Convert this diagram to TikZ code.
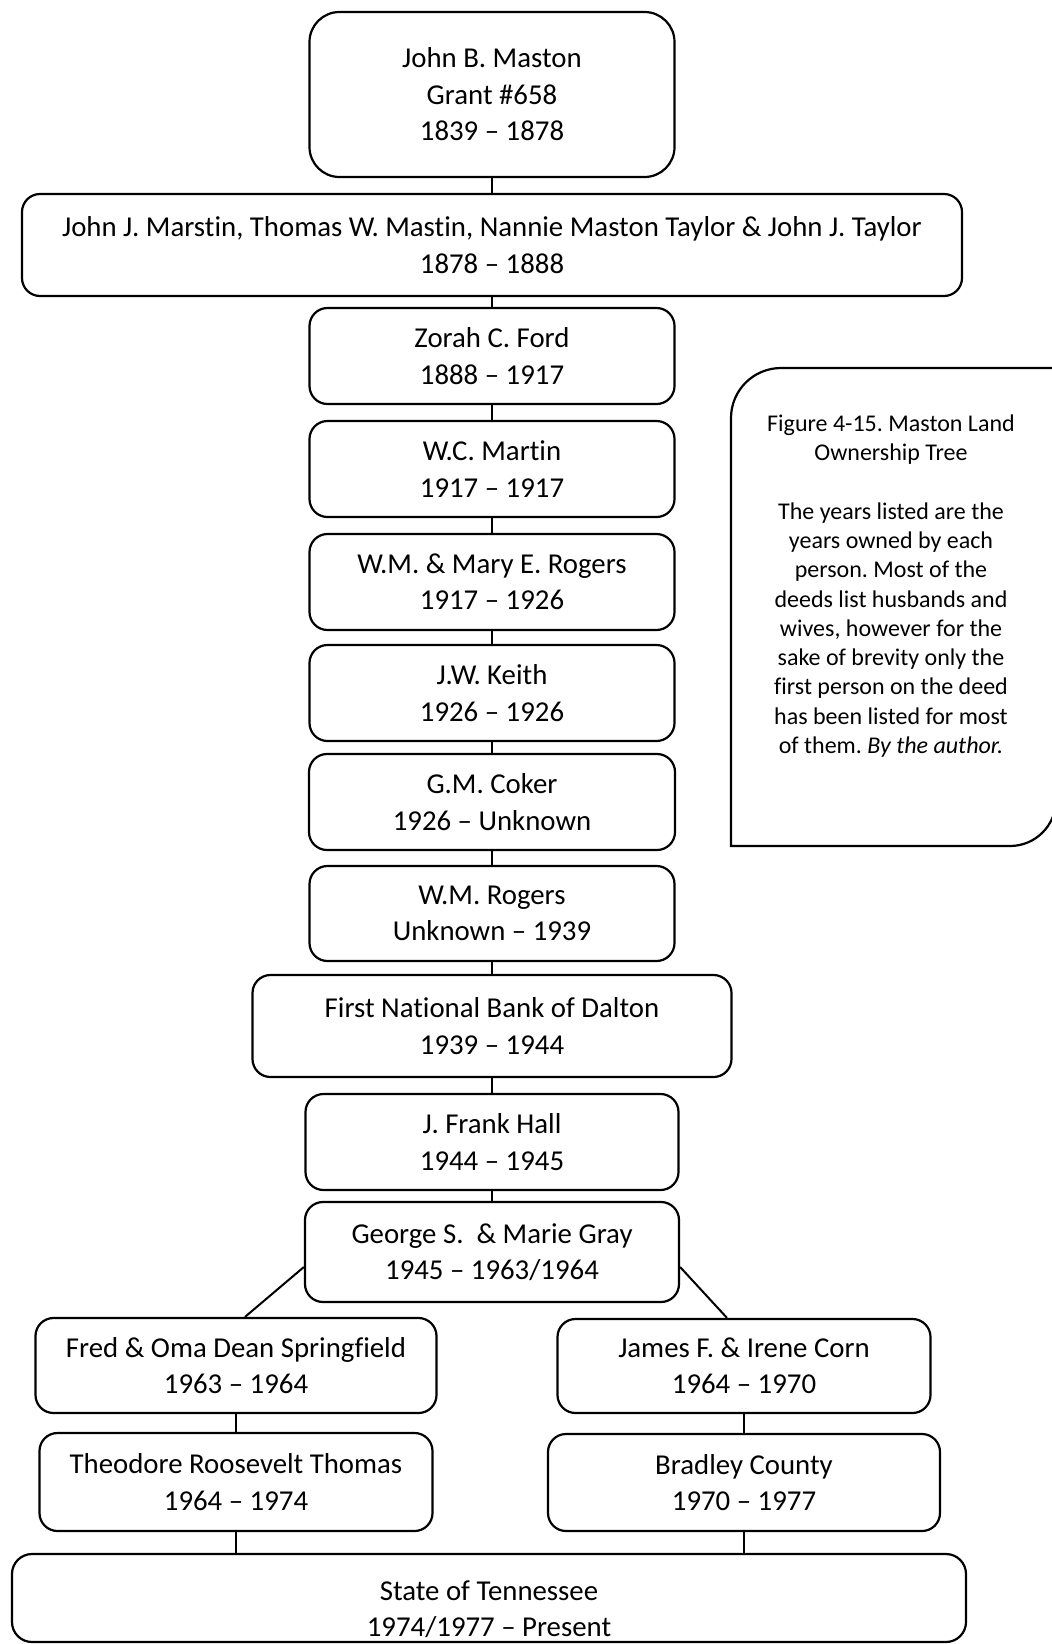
\documentclass[tikz,border=0pt]{standalone}
\usepackage{fontspec}
\setmainfont[Ligatures={TeX,NoCommon}]{Carlito}
\frenchspacing

\tikzset{
  owner/.style={draw, line width=2.2pt, rounded corners=18pt, align=center, inner sep=0pt,
    font=\fontsize{28.8}{36.5}\selectfont},
  link/.style={line width=2pt},
}

\begin{document}
\begin{tikzpicture}[x=1pt, y=-1pt]
    \useasboundingbox (0,0) rectangle (1052,1644);

    % main line of owners
    \node[owner, rounded corners=30pt, minimum width=365pt, minimum height=165pt] (john) at (492,94.5)
        {John B. Maston\\Grant \#658\\1839 – 1878};
    \foreach \name/\y/\w/\h/\txt in {
        heirs/245/940/102/{John J. Marstin, Thomas W. Mastin, Nannie Maston Taylor \& John J. Taylor\\1878 – 1888},
        ford/356/365/96/{Zorah C. Ford\\1888 – 1917},
        martin/469/365/96/{W.C. Martin\\1917 – 1917},
        mary/582/365/96/{W.M. \& Mary E. Rogers\\1917 – 1926},
        keith/693/365/96/{J.W. Keith\\1926 – 1926},
        coker/802/366/96/{G.M. Coker\\1926 – Unknown},
        rogers/913.5/365/95/{W.M. Rogers\\Unknown – 1939},
        bank/1026/479/102/{First National Bank of Dalton\\1939 – 1944},
        hall/1142/373/96/{J. Frank Hall\\1944 – 1945},
        gray/1252/374/100/{George S.~~\& Marie Gray\\1945 – 1963/1964}} {
        \node[owner, minimum width=\w pt, minimum height=\h pt] (\name) at (492,\y) {\txt};
    }

    % the two branches
    \node[owner, minimum width=401pt, minimum height=95pt] (springfield) at (236,1365.5)
        {Fred \& Oma Dean Springfield\\1963 – 1964};
    \node[owner, minimum width=393pt, minimum height=98pt] (thomas) at (236,1482)
        {Theodore Roosevelt Thomas\\1964 – 1974};
    \node[owner, minimum width=373pt, minimum height=94pt] (corn) at (744,1366)
        {James F. \& Irene Corn\\1964 – 1970};
    \node[owner, minimum width=392pt, minimum height=97pt] (county) at (744,1482.5)
        {Bradley County\\1970 – 1977};
    \node[owner, rounded corners=20pt, minimum width=954pt, minimum height=88pt] (tennessee) at (489,1598)
        {\rule{0pt}{42pt}State of Tennessee\\1974/1977 – Present};

    \foreach \a/\b in {john/heirs, heirs/ford, ford/martin, martin/mary, mary/keith, keith/coker,
        coker/rogers, rogers/bank, bank/hall, hall/gray, springfield/thomas, corn/county} {
        \draw[link] (\a) -- (\b);
    }
    \draw[link] ([yshift=-15pt]gray.west) -- ([xshift=9pt]springfield.north);
    \draw[link] ([yshift=-15pt]gray.east) -- ([xshift=-17pt]corn.north);
    \draw[link] (thomas.south) -- (thomas.south |- tennessee.north);
    \draw[link] (county.south) -- (county.south |- tennessee.north);

    % side note
    \draw[line width=2.2pt] (731,846) -- (731,418) .. controls (731,390.4) and (753.4,368) .. (781,368)
        -- (1056,368) -- (1056,800) .. controls (1056,825.4) and (1035.4,846) .. (1010,846) -- cycle;
    \node[align=center, font=\fontsize{24}{29.3}\selectfont] (note) at (891,586)
        {Figure 4-15. Maston Land\\Ownership Tree\\[29.3pt]The years listed are the\\years owned by each\\person. Most of the\\deeds list husbands and\\wives, however for the\\sake of brevity only the\\first person on the deed\\has been listed for most\\of them. \textit{By the author.}};
\end{tikzpicture}
\end{document}
